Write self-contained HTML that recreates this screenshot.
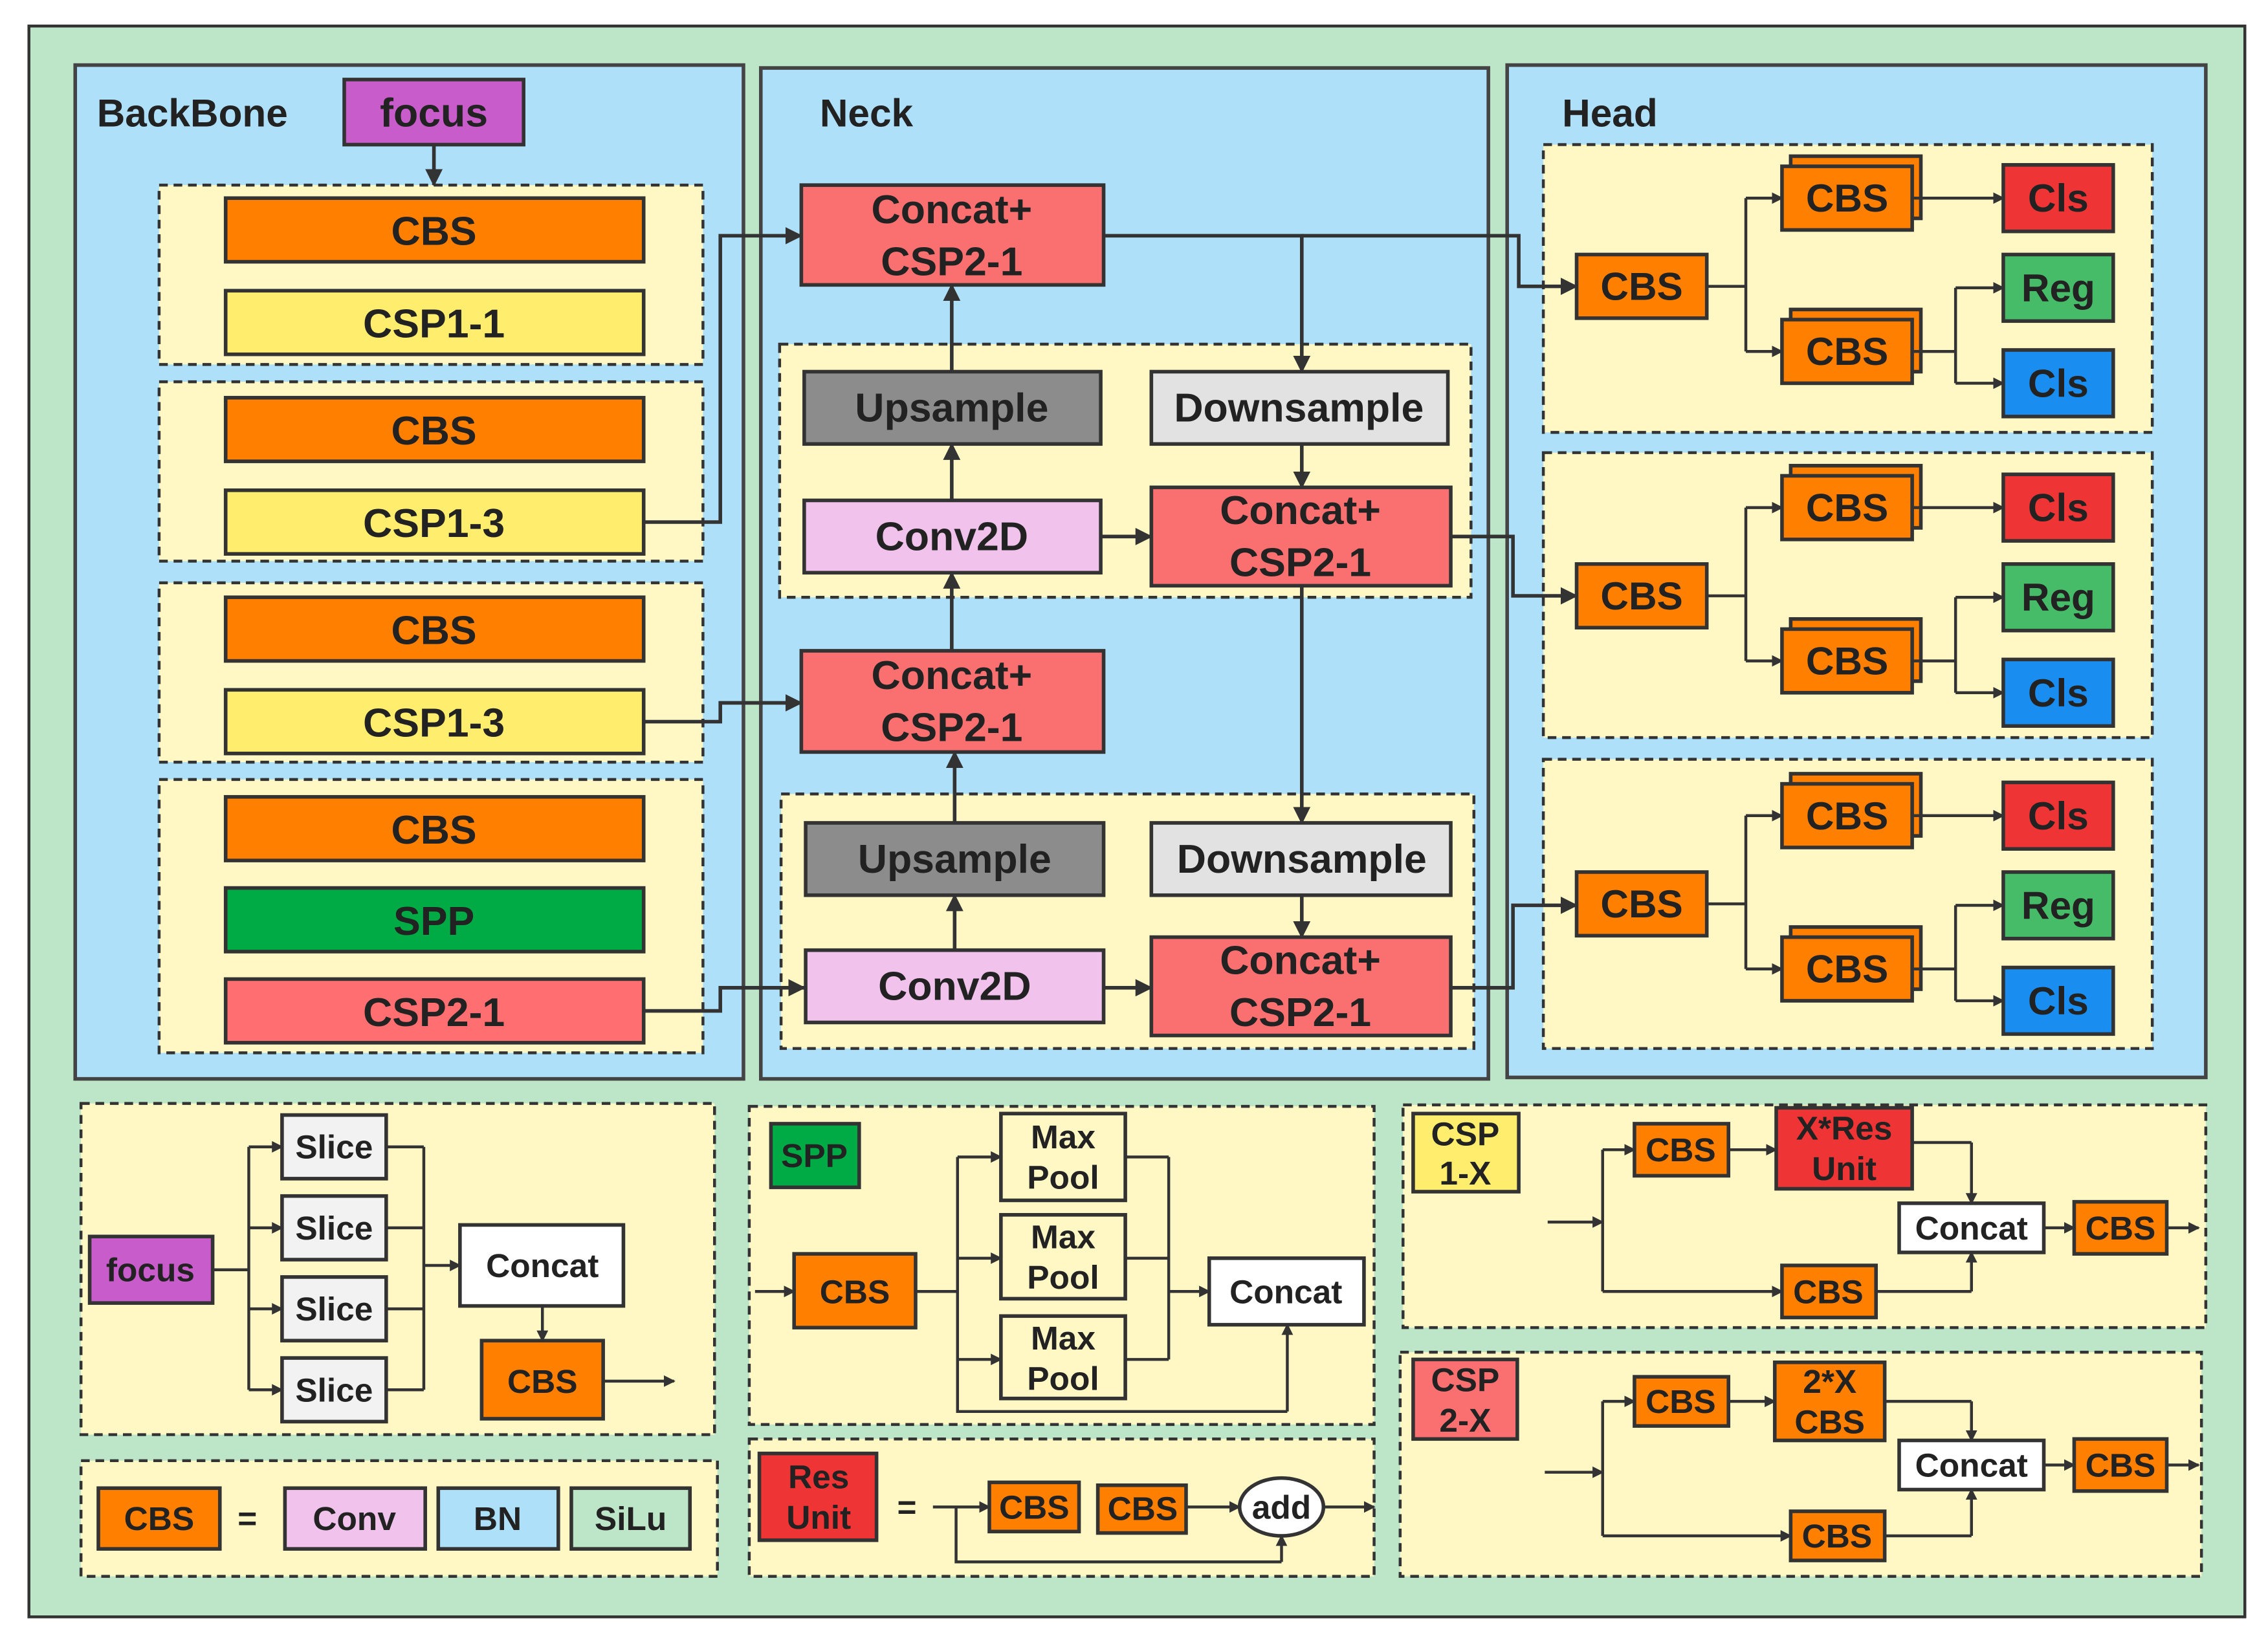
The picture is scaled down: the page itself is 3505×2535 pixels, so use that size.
<!DOCTYPE html>
<html><head><meta charset="utf-8"><style>html,body{margin:0;padding:0;background:#fff}svg{display:block}text{font-family:"Liberation Sans",sans-serif;font-weight:bold;fill:#222;text-anchor:middle;dominant-baseline:central}</style></head>
<body>
<svg width="3505" height="2535" viewBox="0 0 1568 1134" preserveAspectRatio="none" xmlns="http://www.w3.org/2000/svg">
<defs><marker id="a" markerWidth="8" markerHeight="8" refX="7" refY="4" orient="auto" markerUnits="userSpaceOnUse"><path d="M0,0 L8,4 L0,8 z" fill="#333"/></marker>
<marker id="b" markerWidth="12" markerHeight="12" refX="11" refY="6" orient="auto" markerUnits="userSpaceOnUse"><path d="M0,0 L12,6 L0,12 z" fill="#333"/></marker></defs>
<rect x="20" y="18" width="1532" height="1100" fill="#bde6c9" stroke="#333" stroke-width="2"/>
<g stroke="#444" stroke-width="2.5" fill="#aee0fa">
<rect x="52" y="45" width="462" height="701"/><rect x="526" y="47" width="503" height="699"/><rect x="1042" y="45" width="483" height="700"/></g>
<g font-size="27"><text x="133" y="78">BackBone</text><text x="599" y="78">Neck</text><text x="1113" y="78">Head</text></g>
<g fill="#fff7c4" stroke="#333" stroke-width="2" stroke-dasharray="6,4">
<rect x="110" y="128" width="376" height="124"/><rect x="110" y="264" width="376" height="124"/><rect x="110" y="403" width="376" height="124"/><rect x="110" y="539" width="376" height="189"/>
<rect x="539" y="238" width="478" height="175"/><rect x="540" y="549" width="479" height="176"/>
<rect x="1067" y="100" width="421" height="199"/><rect x="1067" y="313" width="421" height="197"/><rect x="1067" y="525" width="421" height="200"/>
<rect x="56" y="763" width="438" height="229"/><rect x="56" y="1010" width="440" height="80"/><rect x="518" y="765" width="432" height="220"/><rect x="518" y="995" width="432" height="95"/><rect x="970" y="764" width="555" height="154"/><rect x="968" y="935" width="554" height="155"/></g>
<g stroke="#333" stroke-width="2.5">
<rect x="238" y="55" width="124" height="45" fill="#c95ccb"/>
<rect x="156" y="137" width="289" height="44" fill="#ff7f00"/><rect x="156" y="201" width="289" height="44" fill="#ffee6e"/>
<rect x="156" y="275" width="289" height="44" fill="#ff7f00"/><rect x="156" y="339" width="289" height="44" fill="#ffee6e"/>
<rect x="156" y="413" width="289" height="44" fill="#ff7f00"/><rect x="156" y="477" width="289" height="44" fill="#ffee6e"/>
<rect x="156" y="551" width="289" height="44" fill="#ff7f00"/><rect x="156" y="614" width="289" height="44" fill="#00aa44"/><rect x="156" y="677" width="289" height="44" fill="#ff6e70"/>
<rect x="554" y="128" width="209" height="69" fill="#fa7070"/>
<rect x="556" y="257" width="205" height="50" fill="#8c8c8c"/><rect x="796" y="257" width="205" height="50" fill="#e2e2e2"/>
<rect x="556" y="346" width="205" height="50" fill="#f0c2ec"/><rect x="796" y="337" width="207" height="68" fill="#fa7070"/>
<rect x="554" y="450" width="209" height="70" fill="#fa7070"/>
<rect x="557" y="569" width="206" height="50" fill="#8c8c8c"/><rect x="796" y="569" width="207" height="50" fill="#e2e2e2"/>
<rect x="557" y="657" width="206" height="50" fill="#f0c2ec"/><rect x="796" y="648" width="207" height="68" fill="#fa7070"/>
</g>
<g font-size="28">
<text x="300" y="78">focus</text>
<text x="300" y="160">CBS</text><text x="300" y="224">CSP1-1</text><text x="300" y="298">CBS</text><text x="300" y="362">CSP1-3</text><text x="300" y="436">CBS</text><text x="300" y="500">CSP1-3</text><text x="300" y="574">CBS</text><text x="300" y="637">SPP</text><text x="300" y="700">CSP2-1</text>
<text x="658" y="145" fill="#333">Concat+</text><text x="658" y="181">CSP2-1</text>
<text x="658" y="282">Upsample</text><text x="898" y="282">Downsample</text><text x="658" y="371">Conv2D</text>
<text x="899" y="353">Concat+</text><text x="899" y="389">CSP2-1</text>
<text x="658" y="467">Concat+</text><text x="658" y="503">CSP2-1</text>
<text x="660" y="594">Upsample</text><text x="900" y="594">Downsample</text><text x="660" y="682">Conv2D</text>
<text x="899" y="664">Concat+</text><text x="899" y="700">CSP2-1</text></g>
<g fill="none" stroke="#333" stroke-width="2.5" marker-end="url(#b)">
<path d="M300,100 V128"/>
<path d="M445,361 H498 V163 H554"/><path d="M445,499 H498 V486 H554"/><path d="M445,699 H498 V683 H556"/>
<path d="M658,257 V197"/><path d="M658,346 V307"/><path d="M658,450 V396"/><path d="M660,569 V520"/><path d="M660,657 V619"/>
<path d="M763,163 H900 V257"/><path d="M900,163 H1050 V198 H1090"/><path d="M900,307 V337"/><path d="M761,371 H796"/>
<path d="M1003,371 H1046 V412 H1090"/><path d="M900,405 V569"/><path d="M900,619 V648"/><path d="M763,683 H796"/><path d="M1003,683 H1046 V626 H1090"/>
</g>
<!-- Head groups -->
<g id="hg">
<g stroke="#333" stroke-width="2.5"><rect x="1090" y="176" width="90" height="44" fill="#ff7f00"/>
<rect x="1238" y="108" width="90" height="43" fill="#ff7f00"/><rect x="1232" y="115" width="90" height="44" fill="#ff7f00"/>
<rect x="1238" y="214" width="90" height="43" fill="#ff7f00"/><rect x="1232" y="221" width="90" height="44" fill="#ff7f00"/>
<rect x="1385" y="114" width="76" height="46" fill="#ee3434"/><rect x="1385" y="176" width="76" height="46" fill="#46bb68"/><rect x="1385" y="242" width="76" height="46" fill="#1a8ef0"/></g>
<g fill="none" stroke="#333" stroke-width="2"><path d="M1180,198 H1207 M1207,137 V243 M1322,243 H1352 M1352,199 V265"/>
<g marker-end="url(#a)"><path d="M1207,137 H1232"/><path d="M1207,243 H1232"/><path d="M1322,137 H1385"/><path d="M1352,199 H1385"/><path d="M1352,265 H1385"/></g></g>
<g font-size="27"><text x="1135" y="198">CBS</text><text x="1277" y="137">CBS</text><text x="1277" y="243">CBS</text><text x="1423" y="137">Cls</text><text x="1423" y="199">Reg</text><text x="1423" y="265">Cls</text></g>
</g>
<use href="#hg" y="214"/><use href="#hg" y="427"/>
<!-- Focus detail -->
<g stroke="#333" stroke-width="2.5">
<rect x="62" y="855" width="85" height="46" fill="#c95ccb"/>
<rect x="195" y="771" width="72" height="44" fill="#f2f2f2"/><rect x="195" y="827" width="72" height="44" fill="#f2f2f2"/><rect x="195" y="883" width="72" height="44" fill="#f2f2f2"/><rect x="195" y="939" width="72" height="44" fill="#f2f2f2"/>
<rect x="318" y="847" width="113" height="56" fill="#fff"/><rect x="333" y="927" width="84" height="54" fill="#ff7f00"/>
<rect x="68" y="1029" width="84" height="42" fill="#ff7f00"/><rect x="197" y="1029" width="97" height="42" fill="#f0c2ec"/><rect x="303" y="1029" width="83" height="42" fill="#aee0fa"/><rect x="395" y="1029" width="82" height="42" fill="#bde6c9"/>
<rect x="533" y="777" width="61" height="44" fill="#00aa44"/><rect x="549" y="867" width="84" height="51" fill="#ff7f00"/>
<rect x="692" y="770" width="86" height="60" fill="#fff7c4"/><rect x="692" y="840" width="86" height="58" fill="#fff7c4"/><rect x="692" y="910" width="86" height="57" fill="#fff7c4"/>
<rect x="836" y="870" width="107" height="46" fill="#fff"/>
<rect x="525" y="1005" width="81" height="60" fill="#ee3434"/><rect x="684" y="1025" width="62" height="34" fill="#ff7f00"/><rect x="759" y="1027" width="61" height="33" fill="#ff7f00"/>
<ellipse cx="886" cy="1042" rx="29" ry="20" fill="#fff"/>
<rect x="977" y="770" width="73" height="54" fill="#ffee6e"/><rect x="1130" y="777" width="65" height="36" fill="#ff7f00"/><rect x="1228" y="766" width="94" height="56" fill="#ee3434"/>
<rect x="1313" y="832" width="100" height="34" fill="#fff"/><rect x="1434" y="831" width="64" height="36" fill="#ff7f00"/><rect x="1232" y="875" width="65" height="36" fill="#ff7f00"/>
<rect x="977" y="940" width="72" height="55" fill="#fa7070"/><rect x="1130" y="952" width="65" height="34" fill="#ff7f00"/><rect x="1227" y="942" width="76" height="54" fill="#ff7f00"/>
<rect x="1313" y="996" width="100" height="34" fill="#fff"/><rect x="1434" y="995" width="64" height="36" fill="#ff7f00"/><rect x="1238" y="1045" width="65" height="34" fill="#ff7f00"/>
</g>
<g fill="none" stroke="#333" stroke-width="2">
<path d="M147,878 H172 M172,793 V961 M267,793 H293 M267,849 H293 M267,905 H293 M267,961 H293 M293,793 V961"/>
<path d="M633,893 H662 M662,800 V976 H890 M778,800 H808 M778,870 H808 M778,940 H808 M808,800 V940"/>
<path d="M661,1042 V1080 H886"/>
<path d="M1108,795 V893 M1322,790 H1363 M1297,893 H1363"/>
<path d="M1108,969 V1062 M1303,969 H1363 M1303,1062 H1363"/>
<g marker-end="url(#a)">
<path d="M172,793 H195"/><path d="M172,849 H195"/><path d="M172,905 H195"/><path d="M172,961 H195"/><path d="M293,875 H318"/><path d="M375,903 V927"/><path d="M417,955 H466"/>
<path d="M522,893 H549"/><path d="M662,800 H692"/><path d="M662,870 H692"/><path d="M662,940 H692"/><path d="M808,893 H836"/><path d="M890,976 V916"/>
<path d="M645,1042 H684"/><path d="M820,1042 H857"/><path d="M915,1042 H950"/><path d="M886,1080 V1062"/>
<path d="M1070,845 H1108"/><path d="M1108,795 H1130"/><path d="M1195,795 H1228"/><path d="M1363,790 V832"/><path d="M1413,849 H1434"/><path d="M1498,849 H1520"/><path d="M1108,893 H1232"/><path d="M1363,893 V866"/>
<path d="M1068,1018 H1108"/><path d="M1108,969 H1130"/><path d="M1195,969 H1227"/><path d="M1363,969 V996"/><path d="M1413,1013 H1434"/><path d="M1498,1013 H1520"/><path d="M1108,1062 H1238"/><path d="M1363,1062 V1030"/>
</g></g>
<g font-size="23">
<text x="104" y="878">focus</text><text x="231" y="793">Slice</text><text x="231" y="849">Slice</text><text x="231" y="905">Slice</text><text x="231" y="961">Slice</text>
<text x="375" y="875" font-weight="normal">Concat</text><text x="375" y="955">CBS</text>
<text x="110" y="1050">CBS</text><text x="171" y="1050" font-weight="normal">=</text><text x="245" y="1050">Conv</text><text x="344" y="1050">BN</text><text x="436" y="1050">SiLu</text>
<text x="563" y="799">SPP</text><text x="591" y="893">CBS</text>
<text x="735" y="786">Max</text><text x="735" y="814">Pool</text><text x="735" y="855">Max</text><text x="735" y="883">Pool</text><text x="735" y="925">Max</text><text x="735" y="953">Pool</text>
<text x="889" y="893" font-weight="normal">Concat</text>
<text x="566" y="1021" fill="#333" font-weight="normal">Res</text><text x="566" y="1049" fill="#333" font-weight="normal">Unit</text><text x="627" y="1042" font-weight="normal">=</text>
<text x="715" y="1042">CBS</text><text x="790" y="1043">CBS</text><text x="886" y="1042" font-weight="normal">add</text>
<text x="1013" y="784">CSP</text><text x="1013" y="811">1-X</text><text x="1162" y="795">CBS</text><text x="1275" y="780" fill="#333" font-weight="normal">X*Res</text><text x="1275" y="808" fill="#333" font-weight="normal">Unit</text>
<text x="1363" y="849" font-weight="normal">Concat</text><text x="1466" y="849">CBS</text><text x="1264" y="893">CBS</text>
<text x="1013" y="954">CSP</text><text x="1013" y="982">2-X</text><text x="1162" y="969">CBS</text><text x="1265" y="955">2*X</text><text x="1265" y="983">CBS</text>
<text x="1363" y="1013" font-weight="normal">Concat</text><text x="1466" y="1013">CBS</text><text x="1270" y="1062">CBS</text>
</g>
</svg>
</body></html>
